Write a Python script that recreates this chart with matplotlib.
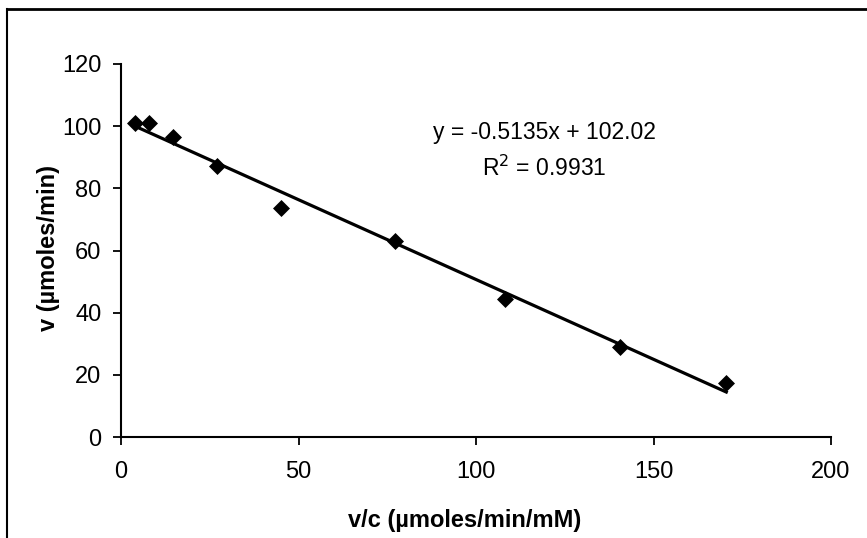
import numpy as np
import matplotlib
matplotlib.use("Agg")
import matplotlib.pyplot as plt
from matplotlib.lines import Line2D

plt.rcParams['font.family'] = ['Liberation Sans', 'DejaVu Sans']

# Data (v/c vs v)
vc = [3.9, 7.9, 14.6, 27.0, 45.2, 77.2, 108.1, 140.7, 170.5]
v = [101.0, 101.0, 96.5, 87.2, 73.7, 63.0, 44.4, 29.0, 17.4]

slope = -0.5135
intercept = 102.02
r2 = 0.9931

x_ticks = [0, 50, 100, 150, 200]
y_ticks = [0, 20, 40, 60, 80, 100, 120]

W, H = 867, 538
fig = plt.figure(figsize=(W / 100, H / 100), dpi=100)
ax = fig.add_axes([121 / W, 1 - 437 / H, (831 - 121) / W, (437 - 64) / H])

ax.scatter(vc, v, marker='D', s=75, color='black', zorder=3, linewidths=0)
xs = np.array([min(vc), max(vc)])
ax.plot(xs, slope * xs + intercept, color='black', lw=2.3, zorder=2)

ax.set_xlim(0, 200)
ax.set_ylim(0, 120)
ax.set_xticks(x_ticks)
ax.set_yticks(y_ticks)
ax.tick_params(axis='both', direction='out', length=6, width=1.3, labelsize=17, colors='black')
ax.tick_params(axis='x', pad=11)
ax.tick_params(axis='y', pad=8)
for s in ['top', 'right']:
    ax.spines[s].set_visible(False)
for s in ['left', 'bottom']:
    ax.spines[s].set_linewidth(1.5)

fig.text(465 / W, 1 - 521 / H, 'v/c (µmoles/min/mM)', ha='center', va='center',
         fontsize=17, fontweight='bold')
fig.text(49 / W, 1 - 248 / H, 'v (µmoles/min)', ha='center', va='center',
         rotation=90, fontsize=17, fontweight='bold')

fig.text(544 / W, 1 - 133 / H, f'y = {slope}x + {intercept:.2f}', ha='center', va='center', fontsize=16.5)
fig.text(544 / W, 1 - 168 / H, f'R$^2$ = {r2}', ha='center', va='center', fontsize=16.5)

# outer frame (top and left visible)
fig.add_artist(Line2D([7 / W, 1.0], [1 - 9 / H, 1 - 9 / H], transform=fig.transFigure, color='black', lw=2))
fig.add_artist(Line2D([7 / W, 7 / W], [0, 1 - 9 / H], transform=fig.transFigure, color='black', lw=1.5))

fig.savefig('out.png', dpi=100)
